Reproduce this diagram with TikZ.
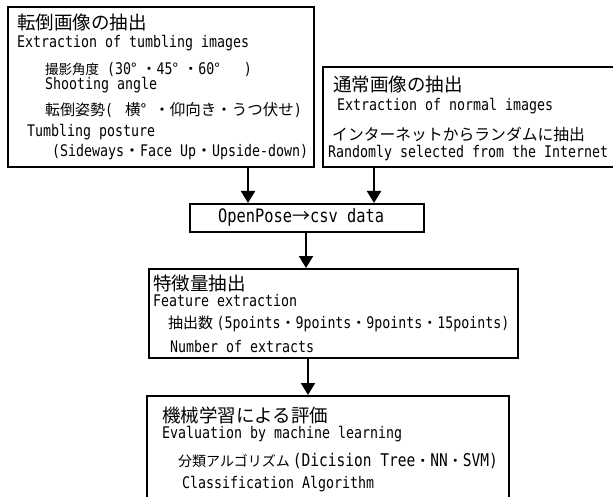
\documentclass[tikz,border=0pt]{standalone}
\usepackage{fontspec}
\setmainfont{DejaVu Sans Mono}[FakeStretch=0.83]
\newfontfamily\jpfont{Noto Sans CJK JP}
\usetikzlibrary{arrows.meta}
\newcommand{\jtext}[2][15]{{\jpfont\fontsize{#1bp}{#1bp}\selectfont #2}}

\begin{document}
\begin{tikzpicture}[x=1bp,y=-1bp,
    box/.style={draw,line width=2.2bp,anchor=north west,inner sep=0pt},
    lbl/.style={anchor=west,inner sep=0pt},
    en/.style={lbl,font=\fontsize{16bp}{18bp}\selectfont},
    hd/.style={lbl,font=\jpfont\fontsize{18.5bp}{20bp}\selectfont},
    arr/.style={line width=2bp,-{Triangle[length=12bp,width=14bp]}}]

\clip (0,0) rectangle (613,497);
\useasboundingbox (0,0) rectangle (613,497);

% boxes
\node[box,minimum width=306bp,minimum height=160bp] (b1) at (7,6) {};
\node[box,minimum width=298bp,minimum height=100bp] (b2) at (322,66) {};
\node[box,minimum width=234bp,minimum height=28bp] (b3) at (189,203) {};
\node[box,minimum width=369bp,minimum height=89bp] (b4) at (148,268) {};
\node[box,minimum width=362bp,minimum height=130bp] (b5) at (146,395) {};

% tumbling images
\node[hd] (t1) at (17,22) {転倒画像の抽出};
\node[en] (e1) at (17,43) {Extraction of tumbling images};
\node[en] (s1) at (45,69) {\jtext[13.5]{撮影角度} (30\jtext{°}\hspace{5bp}\jtext{・}45\jtext{°}\hspace{5bp}\jtext{・}60\jtext{°}\hspace{24bp})};
\node[en] (s1e) at (45,85) {Shooting angle};
\node[en] (s2) at (45,110) {\jtext[15]{転倒姿勢}(\hspace{12bp}\jtext[15.5]{横°\hspace{8bp}・仰向き・うつ伏せ})};
\node[en] (s2e) at (27,132) {Tumbling posture};
\node[en] (s2f) at (52,152) {(Sideways\jtext[16]{・}Face Up\jtext[16]{・}Upside-down)};

% normal images
\node[hd] (t2) at (333,84) {通常画像の抽出};
\node[en] (e2) at (337,106) {Extraction of normal images};
\node[en] (s3) at (332,134) {\jtext[15.8]{インターネットからランダムに抽出}};
\node[en] (s3e) at (328,153) {Randomly selected from the Internet};

% openpose
\node[en,font=\fontsize{18.5bp}{20bp}\selectfont] (o1) at (218,217) {OpenPose\jtext[18]{→}csv data};

% features
\node[hd] (t4) at (153,283) {特徴量抽出};
\node[en] (e4) at (153,301) {Feature extraction};
\node[en] (s4) at (168,324) {\jtext{抽出数 }(5points\jtext{・}9points\jtext{・}9points\jtext{・}15points)};
\node[en] (s4e) at (170,347) {Number of extracts};

% evaluation
\node[hd] (t5) at (162,415) {機械学習による評価};
\node[en] (e5) at (162,434) {Evaluation by machine learning};
\node[en,font=\fontsize{17.5bp}{19bp}\selectfont] (s5) at (178,461) {\jtext[14]{分類アルゴリズム }(Dicision Tree\jtext{・}NN\jtext{・}SVM)};
\node[en] (s5e) at (182,484) {Classification Algorithm};

% arrows
\coordinate (a1) at (248,0);
\coordinate (a2) at (374,0);
\coordinate (a3) at (306,0);
\coordinate (a4) at (308,0);
\draw[arr] (b1.south -| a1) -- (b3.north -| a1);
\draw[arr] (b2.south -| a2) -- (b3.north -| a2);
\draw[arr] (b3.south -| a3) -- (b4.north -| a3);
\draw[arr] (b4.south -| a4) -- (b5.north -| a4);
\end{tikzpicture}
\end{document}
